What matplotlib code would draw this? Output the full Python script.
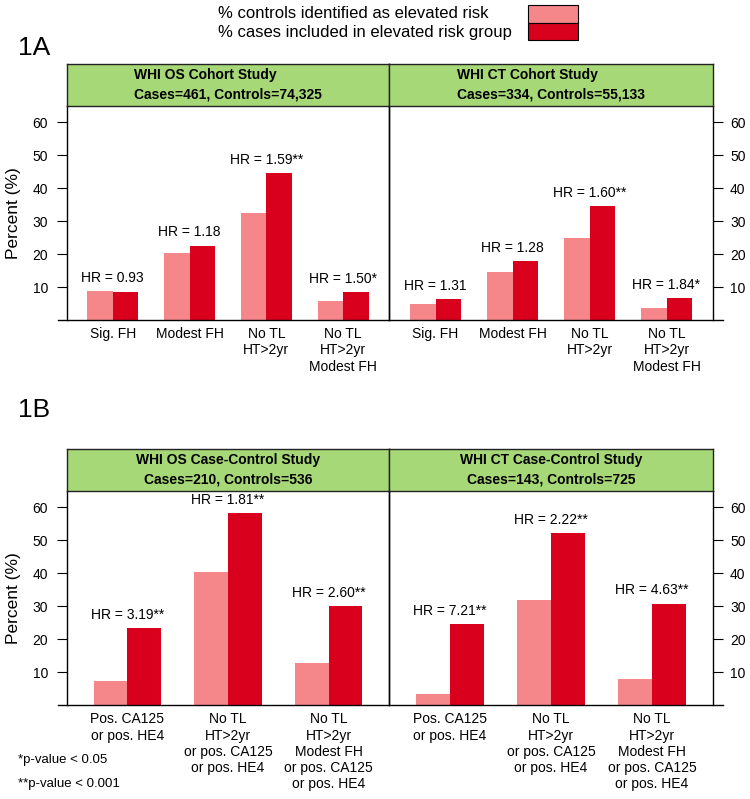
import matplotlib
matplotlib.use("Agg")
import matplotlib.pyplot as plt
from matplotlib.patches import Rectangle
from matplotlib.lines import Line2D
import numpy as np

plt.rcParams['font.family'] = ['Liberation Sans', 'DejaVu Sans']

# ---------------- data ----------------
cats_1a = ["Sig. FH", "Modest FH", "No TL\nHT>2yr", "No TL\nHT>2yr\nModest FH"]
os_cohort_controls = [8.9, 20.3, 32.4, 5.8]
os_cohort_cases = [8.5, 22.6, 44.5, 8.5]
os_cohort_hr = ["HR = 0.93", "HR = 1.18", "HR = 1.59**", "HR = 1.50*"]
ct_cohort_controls = [4.9, 14.6, 25.0, 3.7]
ct_cohort_cases = [6.4, 18.0, 34.6, 6.7]
ct_cohort_hr = ["HR = 1.31", "HR = 1.28", "HR = 1.60**", "HR = 1.84*"]

cats_1b = ["Pos. CA125\nor pos. HE4",
           "No TL\nHT>2yr\nor pos. CA125\nor pos. HE4",
           "No TL\nHT>2yr\nModest FH\nor pos. CA125\nor pos. HE4"]
os_cc_controls = [7.3, 40.4, 12.7]
os_cc_cases = [23.3, 58.1, 30.1]
os_cc_hr = ["HR = 3.19**", "HR = 1.81**", "HR = 2.60**"]
ct_cc_controls = [3.4, 31.8, 8.1]
ct_cc_cases = [24.7, 52.1, 30.8]
ct_cc_hr = ["HR = 7.21**", "HR = 2.22**", "HR = 4.63**"]

strip_titles = ["WHI OS Cohort Study\nCases=461, Controls=74,325",
                "WHI CT Cohort Study\nCases=334, Controls=55,133",
                "WHI OS Case-Control Study\nCases=210, Controls=536",
                "WHI CT Case-Control Study\nCases=143, Controls=725"]
yticks = [10, 20, 30, 40, 50, 60]
legend_labels = ["% controls identified as elevated risk",
                 "% cases included in elevated risk group"]
footnotes = ["*p-value < 0.05", "**p-value < 0.001"]

c_ctrl = "#F5878B"
c_case = "#D8001D"
green = "#A6D877"

W, H = 750, 799
fig = plt.figure(figsize=(W / 100, H / 100), dpi=100)


def fbox(x0, y0, x1, y1):
    return [x0 / W, 1 - y1 / H, (x1 - x0) / W, (y1 - y0) / H]


XL, XM, XR = 66.7, 389.3, 712.7


def panel(x0, x1, y0, y1, sy0, cats, ctrl, case, hr, strip, side, strip_align):
    n = len(cats)
    ax = fig.add_axes(fbox(x0, y0, x1, y1))
    ax.patch.set_alpha(0)
    centers = np.arange(n) * 3 + 2.0
    ax.bar(centers - 0.5, ctrl, width=1.0, color=c_ctrl, linewidth=0)
    ax.bar(centers + 0.5, case, width=1.0, color=c_case, linewidth=0)
    for c, a, b, t in zip(centers, ctrl, case, hr):
        ax.text(c, max(a, b) + 4.0, t, ha='center', va='center', fontsize=10)
    ax.set_xlim(0.2, 3 * n + 0.8)
    ax.set_ylim(0, 65)
    ax.set_xticks(centers)
    ax.set_xticklabels(cats, fontsize=10, linespacing=1.2)
    ax.tick_params(axis='x', length=0, pad=5)
    ax.spines['bottom'].set_visible(False)
    ax.spines['top'].set_visible(False)
    for s in ['left', 'right']:
        ax.spines[s].set_linewidth(1.0)
        ax.spines[s].set_color('black')
    if side == 'left':
        ax.set_yticks(yticks)
        ax.tick_params(axis='y', length=7.5, width=0.8, pad=6, labelsize=10)
        ax.set_ylabel("Percent (%)", fontsize=12.5, labelpad=8)
    else:
        ax.yaxis.tick_right()
        ax.set_yticks(yticks)
        ax.tick_params(axis='y', length=7.5, width=0.8, pad=5, labelsize=10)
    # strip
    sax = fig.add_axes(fbox(x0, sy0, x1, y0))
    sax.set_facecolor(green)
    sax.set_xticks([])
    sax.set_yticks([])
    for s in sax.spines.values():
        s.set_linewidth(1.0)
        s.set_color('#222222')
    sax.text(0.5, 0.5, strip, ha='center', va='center', fontsize=10,
             fontweight='bold', multialignment=strip_align, linespacing=1.45,
             transform=sax.transAxes)
    return ax


# 1A
panel(XL, XM, 105.7, 320.3, 64.0, cats_1a, os_cohort_controls, os_cohort_cases,
      os_cohort_hr, strip_titles[0], 'left', 'left')
panel(XM, XR, 105.7, 320.3, 64.0, cats_1a, ct_cohort_controls, ct_cohort_cases,
      ct_cohort_hr, strip_titles[1], 'right', 'left')
# 1B
panel(XL, XM, 490.7, 705.4, 449.0, cats_1b, os_cc_controls, os_cc_cases,
      os_cc_hr, strip_titles[2], 'left', 'center')
panel(XM, XR, 490.7, 705.4, 449.0, cats_1b, ct_cc_controls, ct_cc_cases,
      ct_cc_hr, strip_titles[3], 'right', 'center')

# baselines extending past the panels
for yb in (320.3, 705.4):
    fig.add_artist(Line2D([58 / W, 723 / W], [1 - yb / H, 1 - yb / H],
                          color='black', lw=1.0))

# panel labels
fig.text(18 / W, 1 - 48 / H, "1A", fontsize=19, va='center', ha='left')
fig.text(18 / W, 1 - 410 / H, "1B", fontsize=19, va='center', ha='left')

# legend
fig.text(218 / W, 1 - 13 / H, legend_labels[0], fontsize=12, va='center', ha='left')
fig.text(218 / W, 1 - 32 / H, legend_labels[1], fontsize=12, va='center', ha='left')
fig.add_artist(Rectangle((528 / W, 1 - 22.5 / H), 50 / W, 17 / H,
                         facecolor=c_ctrl, edgecolor='black', lw=0.8,
                         transform=fig.transFigure))
fig.add_artist(Rectangle((528 / W, 1 - 40 / H), 50 / W, 17.5 / H,
                         facecolor=c_case, edgecolor='black', lw=0.8,
                         transform=fig.transFigure))

# footnotes
fig.text(18 / W, 1 - 760 / H, footnotes[0], fontsize=9.5, va='center', ha='left')
fig.text(18 / W, 1 - 784 / H, footnotes[1], fontsize=9.5, va='center', ha='left')

fig.savefig("out.png", dpi=100)
